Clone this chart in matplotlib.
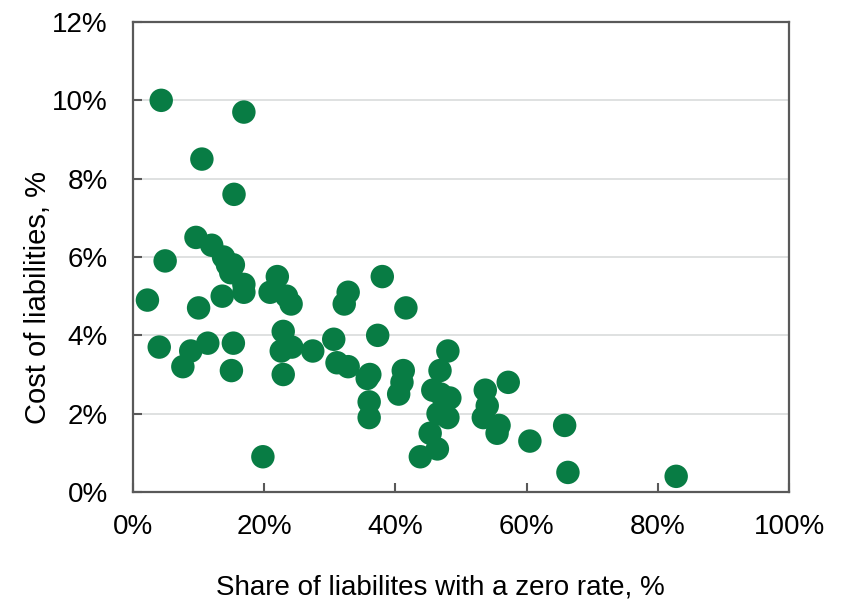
import matplotlib.pyplot as plt

# share of liabilities with a zero rate, % (x) and cost of liabilities, % (y)
share_zero = [4.3, 16.9, 10.5, 15.4, 9.6, 12.0, 4.9, 13.8, 14.4, 15.3,
              14.9, 16.9, 16.9, 2.2, 10.0, 13.6, 4.0, 8.8, 7.6, 11.4,
              15.3, 15.0, 19.8, 22.0, 20.9, 23.4, 24.1, 22.9, 22.6, 24.2,
              22.9, 27.4, 30.6, 31.1, 32.8, 32.8, 32.2, 38.0, 41.6, 37.3,
              35.7, 36.1, 36.0, 36.0, 41.2, 41.0, 40.5, 48.0, 46.8, 45.7,
              48.3, 46.5, 48.0, 45.3, 46.4, 43.8, 46.9, 53.7, 54.0, 53.4,
              55.5, 55.8, 57.2, 60.5, 65.8, 66.3, 82.8]
cost = [10.0, 9.7, 8.5, 7.6, 6.5, 6.3, 5.9, 6.0, 5.8, 5.8,
        5.6, 5.3, 5.1, 4.9, 4.7, 5.0, 3.7, 3.6, 3.2, 3.8,
        3.8, 3.1, 0.9, 5.5, 5.1, 5.0, 4.8, 4.1, 3.6, 3.7,
        3.0, 3.6, 3.9, 3.3, 3.2, 5.1, 4.8, 5.5, 4.7, 4.0,
        2.9, 3.0, 2.3, 1.9, 3.1, 2.8, 2.5, 3.6, 3.1, 2.6,
        2.4, 2.0, 1.9, 1.5, 1.1, 0.9, 2.5, 2.6, 2.2, 1.9,
        1.5, 1.7, 2.8, 1.3, 1.7, 0.5, 0.4]

x_ticks = [0, 20, 40, 60, 80, 100]
y_ticks = [0, 2, 4, 6, 8, 10, 12]

plt.rcParams['font.family'] = ['Liberation Sans', 'DejaVu Sans']

fig = plt.figure(figsize=(8.42, 6.07), dpi=100)
ax = fig.add_axes([133 / 842, 1 - 492 / 607, 656 / 842, 470 / 607])

grey = '#595959'
ax.scatter(share_zero, cost, s=285, color='#087c44', edgecolors='none', zorder=3)

ax.set_xlim(0, 100)
ax.set_ylim(0, 12)
ax.set_xticks(x_ticks)
ax.set_yticks(y_ticks)
ax.set_xticklabels([f"{v}%" for v in x_ticks])
ax.set_yticklabels([f"{v}%" for v in y_ticks])

ax.yaxis.grid(True, color='#d9dcdc', linewidth=1.2, zorder=0)
ax.set_axisbelow(True)

for sp in ax.spines.values():
    sp.set_color(grey)
    sp.set_linewidth(1.6)

ax.tick_params(axis='both', direction='in', length=6.5, width=1.5,
               color=grey, labelsize=20, labelcolor='black')
ax.tick_params(axis='y', pad=18)
ax.tick_params(axis='x', pad=16)

fig.text(440 / 842, 1 - 594 / 607, "Share of liabilites with a zero rate, %",
         ha='center', va='baseline', fontsize=20)
fig.text(38 / 842, 1 - 297 / 607, "Cost of liabilities, %",
         ha='center', va='center', rotation=90, fontsize=21)

fig.savefig("out.png", dpi=100)
